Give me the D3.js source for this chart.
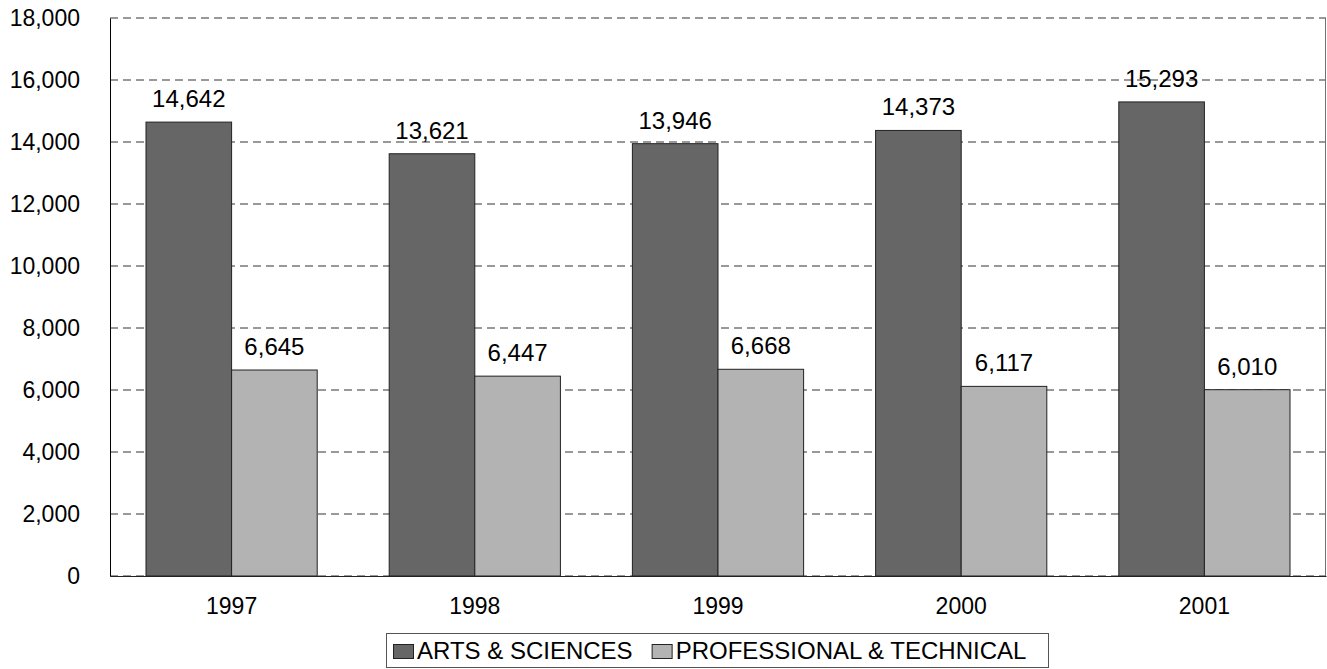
<!DOCTYPE html>
<html>
<head>
<meta charset="utf-8">
<script src="https://cdn.jsdelivr.net/npm/d3@7"></script>
<style>
html,body{margin:0;padding:0;background:#fff;}
svg text{font-family:"Liberation Sans",Arial,sans-serif;fill:#000;}
</style>
</head>
<body>
<svg id="chart" width="1327" height="669"></svg>
<script>
const categories = ["1997","1998","1999","2000","2001"];
const seriesNames = ["ARTS & SCIENCES","PROFESSIONAL & TECHNICAL"];
const artsSciences = [14642,13621,13946,14373,15293];
const profTech = [6645,6447,6668,6117,6010];
const yTicks = [0,2000,4000,6000,8000,10000,12000,14000,16000,18000];
const colors = ["#666666","#b3b3b3"];

const svg = d3.select("#chart");
const m = {left:110, right:1326, top:18, bottom:576};
const fs = 23, fsLabel = 24;

const x = d3.scaleBand().domain(categories).range([m.left,m.right]).padding(0);
const y = d3.scaleLinear().domain([0,18000]).range([m.bottom,m.top]);
const fmt = d3.format(",");

// gridlines
svg.append("g").selectAll("line").data(yTicks).join("line")
  .attr("x1",m.left).attr("x2",m.right)
  .attr("y1",d=>y(d)).attr("y2",d=>y(d))
  .attr("stroke","#333").attr("stroke-width",1)
  .attr("stroke-dasharray","8,5");

// right border
svg.append("line").attr("x1",m.right-0.5).attr("x2",m.right-0.5).attr("y1",m.top).attr("y2",m.bottom)
  .attr("stroke","#707070");

const series = [artsSciences, profTech];
const bw = x.bandwidth()*0.352;
series.forEach((vals,si)=>{
  const g = svg.append("g");
  g.selectAll("rect").data(vals).join("rect")
    .attr("x",(d,i)=>x(categories[i])+x.bandwidth()/2 + (si===0 ? -bw : 0))
    .attr("y",d=>y(d))
    .attr("width",bw)
    .attr("height",d=>y(0)-y(d))
    .attr("fill",colors[si])
    .attr("stroke","#222").attr("stroke-width",1);
  g.selectAll("text").data(vals).join("text")
    .attr("x",(d,i)=>x(categories[i])+x.bandwidth()/2 + (si===0 ? -bw/2 : bw/2))
    .attr("y",d=>y(d)-15)
    .attr("text-anchor","middle")
    .attr("font-size",fsLabel)
    .text(d=>fmt(d));
});

// axes
const yAxis = d3.axisLeft(y).tickValues(yTicks).tickFormat(fmt).tickSize(0).tickPadding(30);
const ya = svg.append("g").attr("transform",`translate(${m.left},0)`).call(yAxis);
ya.select(".domain").attr("stroke","#000");
ya.selectAll("text").attr("font-size",fs).attr("font-family","Liberation Sans, Arial, sans-serif").attr("fill","#000");

const xAxis = d3.axisBottom(x).tickSize(0).tickPadding(22);
const xa = svg.append("g").attr("transform",`translate(0,${m.bottom})`).call(xAxis);
xa.select(".domain").attr("stroke","#222");
xa.selectAll("text").attr("font-size",fs).attr("font-family","Liberation Sans, Arial, sans-serif").attr("fill","#000");

// legend
const lg = svg.append("g");
lg.append("rect").attr("x",386.5).attr("y",633.5).attr("width",662).attr("height",34)
  .attr("fill","#fff").attr("stroke","#555");
let lx = 393;
seriesNames.forEach((name,i)=>{
  lg.append("rect").attr("x",lx+0.5).attr("y",644.5).attr("width",20).attr("height",14)
    .attr("fill",colors[i]).attr("stroke","#222");
  const t = lg.append("text").attr("x",lx+24).attr("y",659).attr("font-size",fsLabel).text(name);
  lx = lx + 24 + t.node().getComputedTextLength() + 19;
});
</script>
</body>
</html>
